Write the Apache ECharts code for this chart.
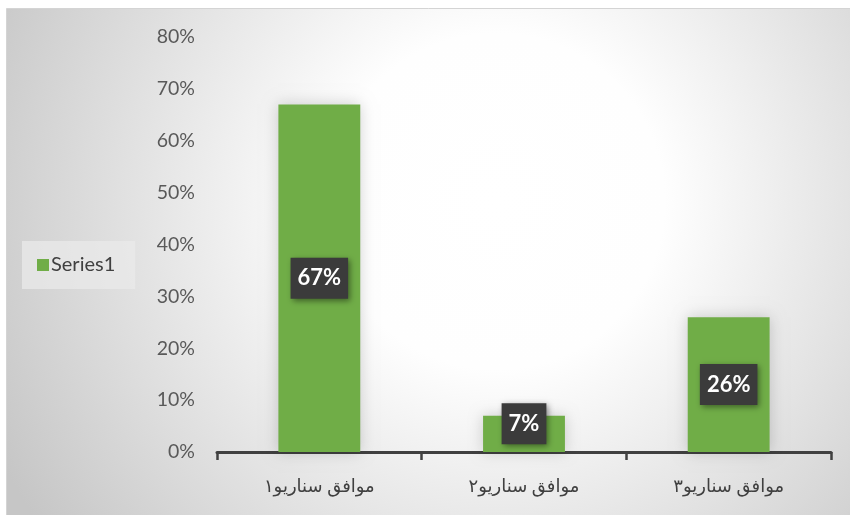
<!DOCTYPE html>
<html><head><meta charset="utf-8">
<script src="https://cdn.jsdelivr.net/npm/echarts@6/dist/echarts.min.js"></script>
<style>html,body{margin:0;padding:0;background:#fff;}#c{width:850px;height:515px;}</style>
</head><body><div id="c"></div>
<script>
const categories = ['موافق سناریو۱', 'موافق سناریو۲', 'موافق سناریو۳'];
const values = [0.67, 0.07, 0.26];
const seriesName = 'Series1';
const yTicks = { min: 0, max: 0.8, interval: 0.1 };

const chart = echarts.init(document.getElementById('c'));
const font = 'Lato, "DejaVu Sans", sans-serif';
chart.setOption({
  animation: false,
  graphic: [{
    type: 'rect', silent: true, z: -10,
    shape: { x: 6.5, y: 8.5, width: 845, height: 508 },
    style: {
      fill: new echarts.graphic.RadialGradient(0.58, 0.38, 1.1, [
        { offset: 0, color: '#ffffff' },
        { offset: 0.3, color: '#fefefe' },
        { offset: 1, color: '#c6c6c6' }
      ]),
      stroke: '#d4d4d4', lineWidth: 1
    }
  }],
  legend: {
    left: 22, top: 241, orient: 'vertical',
    data: [seriesName],
    icon: 'rect', itemWidth: 12, itemHeight: 12, itemGap: 5,
    backgroundColor: 'rgba(234,234,234,0.75)',
    padding: [14, 20, 14, 15],
    textStyle: { fontFamily: font, fontSize: 20, color: '#404040', padding: [0, 0, 0, -3] }
  },
  grid: { left: 217, right: 19, top: 37, bottom: 63 },
  xAxis: {
    type: 'category', data: categories,
    axisLine: { lineStyle: { color: '#404040', width: 3 } },
    axisTick: { show: true, length: 8, lineStyle: { color: '#404040', width: 2.5 } },
    axisLabel: { margin: 25, fontFamily: font, fontSize: 18, color: '#404040' }
  },
  yAxis: {
    type: 'value', min: yTicks.min, max: yTicks.max, interval: yTicks.interval,
    splitLine: { show: false },
    axisLine: { show: false }, axisTick: { show: false },
    axisLabel: {
      margin: 22, fontFamily: font, fontSize: 19.5, color: '#595959',
      formatter: v => Math.round(v * 100) + '%'
    }
  },
  series: [{
    name: seriesName, type: 'bar', barWidth: '40%',
    data: values.map((v, i) => i === 1 ? { value: v, label: { offset: [0, -10] } } : v),
    itemStyle: { color: '#70AD47', shadowBlur: 14, shadowColor: 'rgba(0,0,0,0.18)' },
    label: {
      show: true, position: 'inside',
      formatter: p => Math.round(p.value * 100) + '%',
      fontFamily: font, fontSize: 22, fontWeight: 'bold', color: '#ffffff',
      backgroundColor: '#3b3b3b', padding: [10, 7, 9, 7],
      shadowBlur: 6, shadowColor: 'rgba(0,0,0,0.45)', shadowOffsetX: 2, shadowOffsetY: 2
    }
  }]
});
</script></body></html>
